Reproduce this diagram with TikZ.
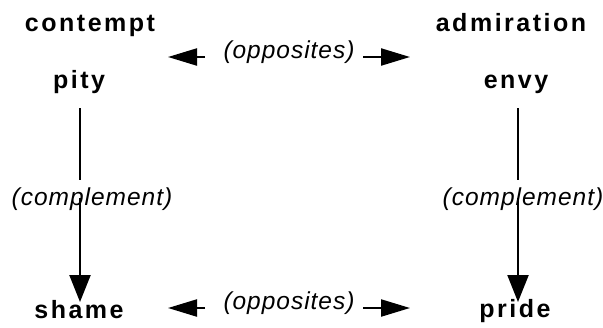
\documentclass[tikz,border=0pt]{standalone}
\usepackage{fontspec}
\setmainfont{Liberation Sans}
\newfontfamily\termfont[LetterSpace=10]{Liberation Sans}
\newfontfamily\labfont[LetterSpace=4]{Liberation Sans}
\usetikzlibrary{arrows.meta}
\begin{document}
\begin{tikzpicture}[x=1bp,y=-1bp,
  term/.style={anchor=base, inner sep=0pt, font=\termfont\bfseries\fontsize{25bp}{29bp}\selectfont},
  lab/.style={anchor=base, inner sep=0pt, font=\labfont\itshape\fontsize{24.5bp}{28bp}\selectfont},
  link/.style={line width=2.2bp},
  harrow/.style={link, -{Triangle[length=29bp,width=17bp]}},
  varrow/.style={link, -{Triangle[length=27bp,width=21bp]}}]
\useasboundingbox (0,0) rectangle (603,327);
% terms
\node[term] (contempt)   at (90,31)  {contempt};
\node[term] (admiration) at (511,31) {admiration};
\node[term] (pity)       at (79,88)  {pity};
\node[term] (envy)       at (516,88) {envy};
\node[term] (shame)      at (79,318) {shame};
\node[term] (pride)      at (515,317) {pride};
% labels
\node[lab] (opptop) at (289,58)  {(opposites)};
\node[lab] (oppbot) at (289,309) {(opposites)};
\node[lab] (compl)  at (92,205)  {(complement)};
\node[lab] (compr)  at (523,205) {(complement)};
% connector points
\coordinate (otl) at (205,57);  \coordinate (otlt) at (168,57);
\coordinate (otr) at (363,57);  \coordinate (otrt) at (410,57);
\coordinate (obl) at (205,308); \coordinate (oblt) at (168,308);
\coordinate (obr) at (363,308); \coordinate (obrt) at (410,308);
\coordinate (lt) at (80,108);  \coordinate (lm) at (80,180);
\coordinate (lb) at (80,198);  \coordinate (ltip) at (80,302);
\coordinate (rt) at (518,108); \coordinate (rm) at (518,180);
\coordinate (rb) at (518,198); \coordinate (rtip) at (518,302);
% connectors
\draw[harrow] (otl) -- (otlt);
\draw[harrow] (otr) -- (otrt);
\draw[harrow] (obl) -- (oblt);
\draw[harrow] (obr) -- (obrt);
\draw[link] (lt) -- (lm);
\draw[varrow] (lb) -- (ltip);
\draw[link] (rt) -- (rm);
\draw[varrow] (rb) -- (rtip);
\end{tikzpicture}
\end{document}
